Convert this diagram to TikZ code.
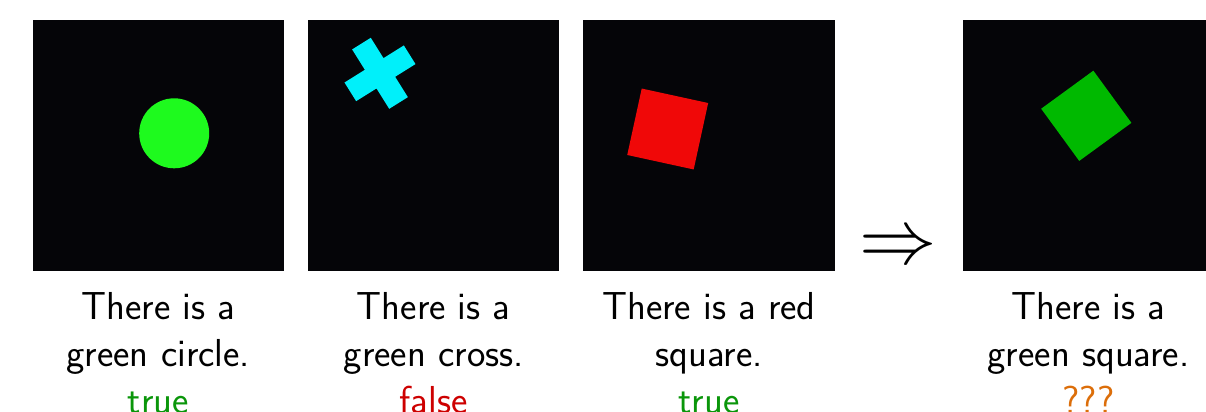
\documentclass[tikz,border=0pt]{standalone}
\usepackage{xcolor}
\definecolor{panelbg}{RGB}{5,5,8}
\definecolor{circgreen}{RGB}{30,250,30}
\definecolor{crosscyan}{RGB}{0,240,250}
\definecolor{sqred}{RGB}{240,8,8}
\definecolor{sqgreen}{RGB}{0,185,0}
\definecolor{truegreen}{RGB}{10,150,10}
\definecolor{falsered}{RGB}{205,0,0}
\definecolor{unkorange}{RGB}{220,110,10}
\begin{document}
\begin{tikzpicture}[x=0.5pt,y=-0.5pt,
  panel/.style={fill=panelbg},
  caption/.style={font=\sffamily\fontsize{19.5}{23.5}\selectfont, align=center, anchor=base, inner sep=0pt},
  verdict/.style={font=\sffamily\fontsize{19.5}{23.5}\selectfont, anchor=base, inner sep=0pt}]
\useasboundingbox (0,0) rectangle (1206,412);
% panels
\fill[panel] (32.7,20) rectangle (284,271.3);
\fill[panel] (308,20) rectangle (559.3,271.3);
\fill[panel] (583.3,20) rectangle (834.6,271.3);
\fill[panel] (963,20) rectangle (1214.3,271.3);
% shapes
\fill[circgreen] (174.2,133.3) circle[radius=35];
\begin{scope}[shift={(380,73.3)}, rotate=32]
  \fill[crosscyan] (-11,-35) -- (11,-35) -- (11,-11) -- (35,-11) -- (35,11) -- (11,11)
    -- (11,35) -- (-11,35) -- (-11,11) -- (-35,11) -- (-35,-11) -- (-11,-11) -- cycle;
\end{scope}
\begin{scope}[shift={(667.7,129)}, rotate=-12.3]
  \fill[sqred] (-34,-34) rectangle (34,34);
\end{scope}
\begin{scope}[shift={(1086.3,115.8)}, rotate=-53.9]
  \fill[sqgreen] (-32.3,-32.3) rectangle (32.3,32.3);
\end{scope}
% implication arrow
\node[inner sep=0pt, scale=1.556] (arrow) at (898,249) {\fontsize{24.88}{28}\selectfont$\Rightarrow$};
% captions
\node[caption] (c1) at (158.3,366) {There is a\\green circle.};
\node[caption] (c2) at (433.7,366) {There is a\\green cross.};
\node[caption] (c3) at (709,366) {There is a red\\square.};
\node[caption] (c4) at (1088.5,366) {There is a\\green square.};
\node[verdict, text=truegreen] (v1) at (158.3,413) {true};
\node[verdict, text=falsered] (v2) at (433.7,413) {false};
\node[verdict, text=truegreen] (v3) at (709,413) {true};
\node[verdict, text=unkorange] (v4) at (1088.5,413) {???};
\end{tikzpicture}
\end{document}
